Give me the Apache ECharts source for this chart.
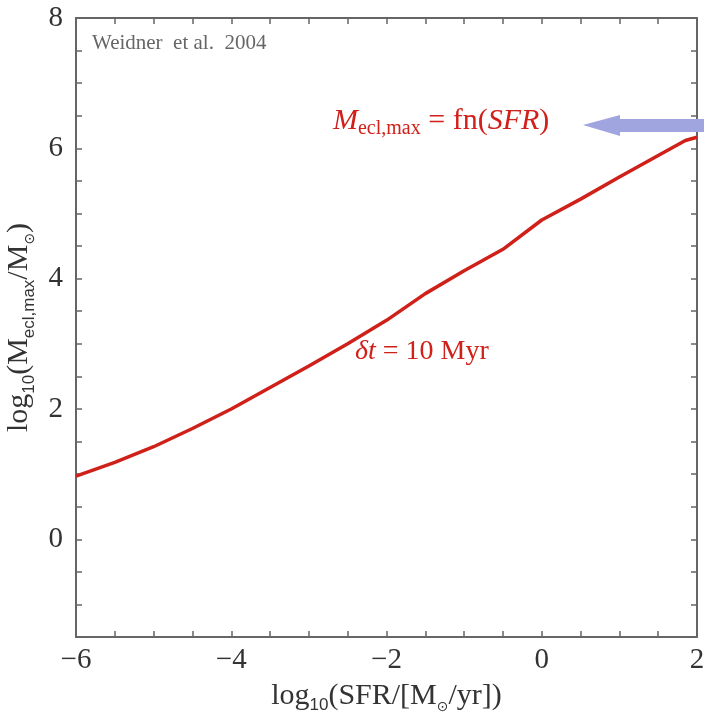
<!DOCTYPE html>
<html><head><meta charset="utf-8">
<script src="https://cdn.jsdelivr.net/npm/echarts@6/dist/echarts.min.js"></script>
<style>html,body{margin:0;padding:0;background:#fff}#c{width:704px;height:717px}</style>
</head><body><div id="c"></div>
<script>
// data
const sfr  = [-6, -5.5, -5, -4.5, -4, -3.5, -3, -2.5, -2, -1.5, -1, -0.5, 0, 0.5, 1, 1.5, 1.85, 2];
const mmax = [0.97, 1.18, 1.42, 1.70, 2.00, 2.33, 2.66, 3.00, 3.36, 3.77, 4.12, 4.45, 4.90, 5.22, 5.56, 5.89, 6.12, 6.17];
const xTickLabels = [-6, -4, -2, 0, 2];
const yTickLabels = [0, 2, 4, 6, 8];

const SERIF = '"Liberation Serif", "DejaVu Serif", serif';
const SANS = '"Liberation Sans", "DejaVu Sans", sans-serif';
const AX = '#666';
const RED = '#d0201a';

function fmt(v, list) {
  if (!list.includes(v)) return '';
  return String(v).replace('-', '\u2212');
}

const chart = echarts.init(document.getElementById('c'), null, {renderer: 'canvas'});

function axisCommon() {
  return {
    type: 'value',
    interval: 0.5,
    axisLine: {show: true, onZero: false, lineStyle: {color: AX, width: 2}},
    axisTick: {show: true, inside: true, length: 6, lineStyle: {color: AX, width: 1.5}},
    splitLine: {show: false}
  };
}

const titleRich = {
  n: {fontFamily: SERIF, fontSize: 30, color: '#333', lineHeight: 36, verticalAlign: 'middle'},
  s: {fontFamily: SANS, fontSize: 17, color: '#333', lineHeight: 17, verticalAlign: 'bottom'},
  o: {fontFamily: '"DejaVu Sans", sans-serif', fontSize: 14, color: '#333', lineHeight: 17, verticalAlign: 'bottom'}
};

const option = {
  animation: false,
  backgroundColor: '#fff',
  grid: {left: 76, right: 7, top: 18, bottom: 80, containLabel: false, outerBoundsMode: 'none'},
  xAxis: [
    Object.assign(axisCommon(), {
      min: -6, max: 2, position: 'bottom',
      axisLabel: {show: true, formatter: v => fmt(v, xTickLabels), fontFamily: SERIF, fontSize: 29, color: '#333', margin: 9, showMinLabel: true, showMaxLabel: true},
      name: '{n|log}{s|10}{n|(SFR/[M}{o|\u2299}{n|/yr])}',
      nameLocation: 'middle', nameGap: 41,
      nameTextStyle: {rich: titleRich}
    }),
    Object.assign(axisCommon(), {
      min: -6, max: 2, position: 'top', axisLabel: {show: false}
    })
  ],
  yAxis: [
    Object.assign(axisCommon(), {
      min: -1.5, max: 8, position: 'left',
      axisLabel: {show: true, formatter: v => fmt(v, yTickLabels), fontFamily: SERIF, fontSize: 29, color: '#333', margin: 13, showMinLabel: true, showMaxLabel: true},
      name: '{n|log}{s|10}{n|(M}{s|ecl,max}{n|/M}{o|\u2299}{n|)}',
      nameLocation: 'middle', nameGap: 38, nameRotate: 90,
      nameTextStyle: {rich: titleRich}
    }),
    Object.assign(axisCommon(), {
      min: -1.5, max: 8, position: 'right', axisLabel: {show: false}
    })
  ],
  series: [{
    type: 'line',
    data: sfr.map((x, i) => [x, mmax[i]]),
    showSymbol: false,
    smooth: false,
    lineStyle: {color: RED, width: 3.5},
    z: 5
  }],
  graphic: [
    {type: 'text', left: 92, top: 33, z: 10,
      style: {text: 'Weidner  et al.  2004', font: '21px ' + SERIF, fill: '#666'}},
    {type: 'text', left: 333, top: 106, z: 10,
      style: {
        text: '{m|M}{s|ecl,max}{n| = fn(}{m|SFR}{n|)}',
        rich: {
          m: {fontFamily: SERIF, fontStyle: 'italic', fontSize: 30, fill: RED, lineHeight: 36, verticalAlign: 'middle'},
          n: {fontFamily: SERIF, fontSize: 30, fill: RED, lineHeight: 36, verticalAlign: 'middle'},
          s: {fontFamily: SERIF, fontSize: 20, fill: RED, lineHeight: 20, verticalAlign: 'bottom'}
        }
      }},
    {type: 'text', left: 355, top: 338, z: 10,
      style: {
        text: '{m|\u03b4t}{n| = 10 Myr}',
        rich: {
          m: {fontFamily: SERIF, fontStyle: 'italic', fontSize: 28, fill: RED, lineHeight: 34},
          n: {fontFamily: SERIF, fontSize: 28, fill: RED, lineHeight: 34}
        }
      }},
    {type: 'polygon', z: 20,
      shape: {points: [[583, 125], [620, 115], [620, 119], [704, 119], [704, 132], [620, 132], [620, 136]]},
      style: {fill: '#a0a4df'}}
  ]
};
chart.setOption(option);
</script>
</body></html>
